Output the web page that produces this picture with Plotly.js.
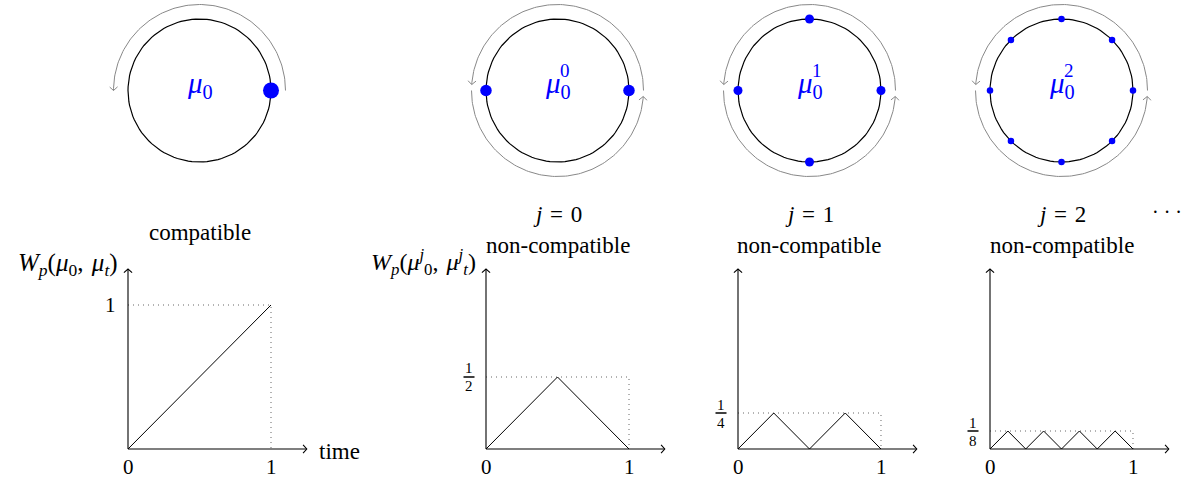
<!DOCTYPE html>
<html>
<head>
<meta charset="utf-8">
<script src="https://cdn.plot.ly/plotly-3.0.1.min.js"></script>
<style>
html, body { margin: 0; padding: 0; background: #fff; }
#chart { width: 1187px; height: 482px; }
</style>
</head>
<body>
<div id="chart"></div>
<script>
// 数据
const pointCounts = [1, 2, 4, 8];
const stepLabels = ['', 'j = 0', 'j = 1', 'j = 2'];
const kindLabels = ['compatible', 'non-compatible', 'non-compatible', 'non-compatible'];
const muSups = ['', '0', '1', '2'];

const time1 = [0, 1];
const dist1 = [0, 1];
const time2 = [0, 0.5, 1];
const dist2 = [0, 0.5, 0];
const time3 = [0, 0.25, 0.5, 0.75, 1];
const dist3 = [0, 0.25, 0, 0.25, 0];
const time4 = [0, 0.125, 0.25, 0.375, 0.5, 0.625, 0.75, 0.875, 1];
const dist4 = [0, 0.125, 0, 0.125, 0, 0.125, 0, 0.125, 0];

const peakNum = ['1', '1', '1', '1'];
const peakDen = ['', '2', '4', '8'];

const times = [time1, time2, time3, time4];
const dists = [dist1, dist2, dist3, dist4];

// 版面
const W = 1187, H = 482;
const originX = [128, 486, 738, 990];
const originY = 449;
const unitX = 143, unitY = 144;
const xRange = [-0.3, 1.32], yRange = [-0.1, 1.32];
const axisEnd = 1.25;
const circleR = 71.5, circleY = 90.5, circleHalf = 90;
const outerR = 86 / 71.5;
const dotSizes = [16, 11.5, 9, 6.5];
const arcSpans = [
    [[0, 180]],
    [[0, 176], [180, 356]],
    [[0, 176], [180, 356]],
    [[0, 176], [180, 356]]
];
const serif = '"Liberation Serif", "Times New Roman", serif';

// 箭头（TeX 风格的开口箭头）
function chevron(tx, ty, dirDeg, sx, sy) {
    const len = 5.5, spread = 48 * Math.PI / 180;
    const back = (dirDeg + 180) * Math.PI / 180;
    const a1 = back + spread, a2 = back - spread;
    return {
        x: [tx + len * Math.cos(a1) / sx, tx, tx + len * Math.cos(a2) / sx, null],
        y: [ty + len * Math.sin(a1) / sy, ty, ty + len * Math.sin(a2) / sy, null]
    };
}

function arcPoints(r, a0, a1) {
    const xs = [], ys = [];
    const n = 120;
    for (let i = 0; i <= n; i++) {
        const t = (a0 + (a1 - a0) * i / n) * Math.PI / 180;
        xs.push(r * Math.cos(t));
        ys.push(r * Math.sin(t));
    }
    return { x: xs, y: ys };
}

function label(extra) {
    return Object.assign({ showarrow: false, xanchor: 'center', yanchor: 'middle' }, extra);
}

const traces = [];
const annotations = [];
const shapes = [];
const layout = {
    width: W,
    height: H,
    margin: { l: 0, r: 0, t: 0, b: 0 },
    paper_bgcolor: '#ffffff',
    plot_bgcolor: 'rgba(0,0,0,0)',
    showlegend: false,
    font: { family: serif, color: '#000000' }
};

pointCounts.forEach((count, k) => {
    // ---- 下方曲线图 ----
    const pi = k + 1;
    const xa = 'x' + pi, ya = 'y' + pi;
    const ox = originX[k];
    layout['xaxis' + pi] = {
        domain: [(ox + xRange[0] * unitX) / W, (ox + xRange[1] * unitX) / W],
        range: xRange, anchor: ya, visible: false, fixedrange: true
    };
    layout['yaxis' + pi] = {
        domain: [(H - (originY - yRange[0] * unitY)) / H, (H - (originY - yRange[1] * unitY)) / H],
        range: yRange, anchor: xa, visible: false, fixedrange: true
    };

    const peak = Math.max(...dists[k]);
    const tEnd = times[k][times[k].length - 1];

    // 虚线辅助线
    traces.push({
        x: [0, tEnd, tEnd], y: [peak, peak, 0],
        xaxis: xa, yaxis: ya, type: 'scatter', mode: 'lines',
        line: { color: '#666666', width: 1, dash: '1px,4px' },
        hoverinfo: 'skip'
    });

    // 坐标轴
    const hx = chevron(axisEnd, 0, 0, unitX, unitY);
    const hy = chevron(0, axisEnd, 90, unitX, unitY);
    traces.push({
        x: [0, axisEnd, null].concat(hx.x, [0, 0, null], hy.x),
        y: [0, 0, null].concat(hx.y, [0, axisEnd, null], hy.y),
        xaxis: xa, yaxis: ya, type: 'scatter', mode: 'lines',
        line: { color: '#000000', width: 1.1 },
        hoverinfo: 'skip'
    });

    // 距离曲线
    traces.push({
        x: times[k], y: dists[k],
        xaxis: xa, yaxis: ya, type: 'scatter', mode: 'lines',
        line: { color: '#000000', width: 1 },
        hoverinfo: 'skip'
    });

    // 刻度标签
    annotations.push(
        label({ xref: xa, yref: ya, x: 0, y: 0, text: '0', yshift: -18, font: { family: serif, size: 21 } }),
        label({ xref: xa, yref: ya, x: tEnd, y: 0, text: '1', yshift: -18, font: { family: serif, size: 21 } })
    );
    if (peakDen[k] === '') {
        annotations.push(label({ xref: xa, yref: ya, x: 0, y: peak, text: peakNum[k],
            xshift: -18, font: { family: serif, size: 21 } }));
    } else {
        annotations.push(
            label({ xref: xa, yref: ya, x: 0, y: peak, text: peakNum[k],
                xshift: -17, yshift: 8.5, font: { family: serif, size: 15, color: '#000000' } }),
            label({ xref: xa, yref: ya, x: 0, y: peak, text: peakDen[k],
                xshift: -17, yshift: -9.5, font: { family: serif, size: 15, color: '#000000' } })
        );
        shapes.push({ type: 'line', xref: xa, yref: ya, xsizemode: 'pixel', xanchor: 0,
            x0: -22.5, x1: -11.5, y0: peak, y1: peak, line: { color: '#000000', width: 1.3 } });
    }

    // ---- 上方圆 ----
    const ci = k + 5;
    const cxa = 'x' + ci, cya = 'y' + ci;
    const cx = ox + circleR;
    const cr = circleHalf / circleR;
    layout['xaxis' + ci] = {
        domain: [(cx - circleHalf) / W, (cx + circleHalf) / W],
        range: [-cr, cr], anchor: cya, visible: false, fixedrange: true
    };
    layout['yaxis' + ci] = {
        domain: [(H - circleY - circleHalf) / H, (H - circleY + circleHalf) / H],
        range: [-cr, cr], anchor: cxa, visible: false, fixedrange: true
    };

    const ring = arcPoints(1, 0, 360);
    traces.push({
        x: ring.x, y: ring.y, xaxis: cxa, yaxis: cya, type: 'scatter', mode: 'lines',
        line: { color: '#000000', width: 1.2 }, hoverinfo: 'skip'
    });

    let ax = [], ay = [];
    arcSpans[k].forEach(span => {
        const arc = arcPoints(outerR, span[0], span[1]);
        const endT = span[1] * Math.PI / 180;
        const head = chevron(outerR * Math.cos(endT), outerR * Math.sin(endT), span[1] + 90, circleR, circleR);
        ax = ax.concat(arc.x, [null], head.x);
        ay = ay.concat(arc.y, [null], head.y);
    });
    traces.push({
        x: ax, y: ay, xaxis: cxa, yaxis: cya, type: 'scatter', mode: 'lines',
        line: { color: '#888888', width: 1 }, hoverinfo: 'skip'
    });

    const dx = [], dy = [];
    for (let m = 0; m < count; m++) {
        const t = 2 * Math.PI * m / count;
        dx.push(Math.cos(t));
        dy.push(Math.sin(t));
    }
    traces.push({
        x: dx, y: dy, xaxis: cxa, yaxis: cya, type: 'scatter', mode: 'markers',
        marker: { color: '#0000ff', size: dotSizes[k] }, hoverinfo: 'skip'
    });

    // 圆心标签
    annotations.push(label({ xref: cxa, yref: cya, x: 0, y: 0, text: '<i>μ</i><sub>0</sub>',
        yshift: 6, font: { family: serif, size: 29, color: '#0000ff' } }));
    if (muSups[k] !== '') {
        annotations.push(label({ xref: cxa, yref: cya, x: 0, y: 0, text: muSups[k],
            xshift: 7, yshift: 20, font: { family: serif, size: 19, color: '#0000ff' } }));
    }

    // 标题文字
    if (stepLabels[k] !== '') {
        annotations.push(label({ xref: 'paper', yref: 'paper', x: cx / W, y: 1 - 215 / H,
            text: stepLabels[k].replace('j', '<i>j</i>').replace(/ /g, '\u2004'),
            font: { family: serif, size: 23 } }));
        annotations.push(label({ xref: 'paper', yref: 'paper', x: cx / W, y: 1 - 245 / H,
            text: kindLabels[k], font: { family: serif, size: 23 } }));
    } else {
        annotations.push(label({ xref: 'paper', yref: 'paper', x: cx / W, y: 1 - 232 / H,
            text: kindLabels[k], font: { family: serif, size: 23 } }));
    }
});

// 轴标题
annotations.push(
    label({ xref: 'x1', yref: 'y1', x: 0, y: axisEnd, xanchor: 'right', xshift: -8, yshift: 4,
      text: '<i>W</i><sub><i>p</i></sub>(<i>μ</i><sub>0</sub>,\u2004<i>μ</i><sub><i>t</i></sub>)',
      font: { family: serif, size: 25 } }),
    label({ xref: 'x2', yref: 'y2', x: 0, y: axisEnd, xanchor: 'right', xshift: -8, yshift: 7,
      text: '<i>W</i><sub><i>p</i></sub>(<i>μ</i><sup><i>j</i></sup><sub>0</sub>,\u2004<i>μ</i><sup><i>j</i></sup><sub><i>t</i></sub>)',
      font: { family: serif, size: 24 } }),
    label({ xref: 'x1', yref: 'y1', x: axisEnd, y: 0, xanchor: 'left', xshift: 10, yshift: -2,
      text: 'time', font: { family: serif, size: 23 } }),
    label({ xref: 'paper', yref: 'paper', x: 1167 / W, y: 1 - 212 / H,
      text: '·\u00a0·\u00a0·', font: { family: serif, size: 20 } })
);

layout.annotations = annotations;
layout.shapes = shapes;

Plotly.newPlot('chart', traces, layout, { displayModeBar: false, staticPlot: true });
</script>
</body>
</html>
